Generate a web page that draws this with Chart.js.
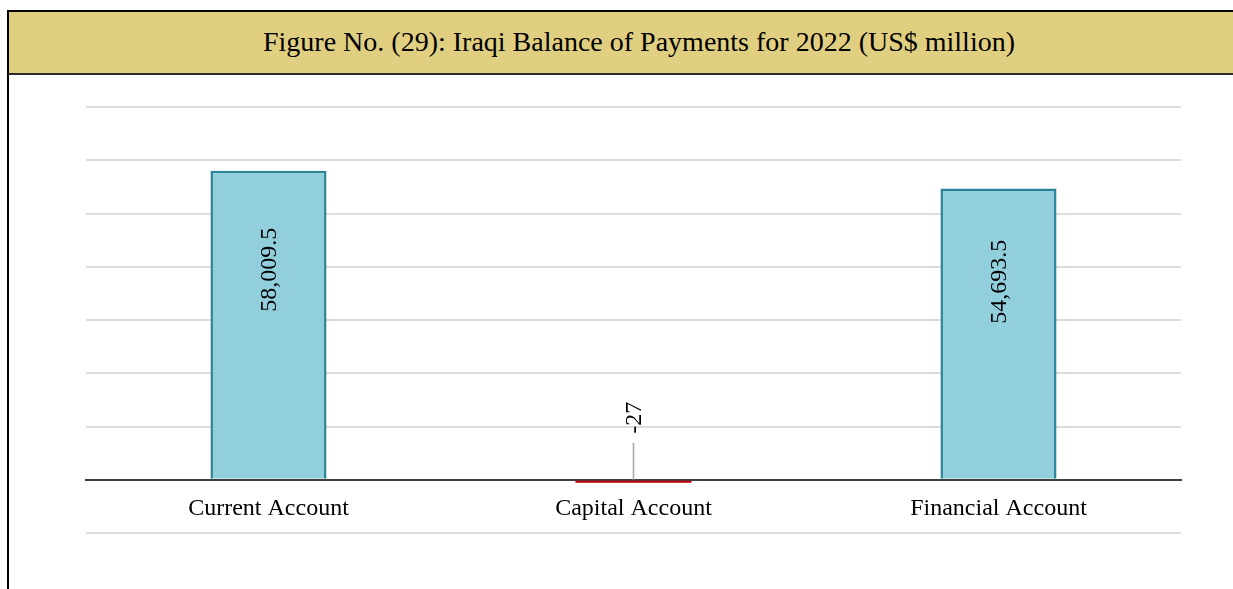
<!DOCTYPE html>
<html>
<head>
<meta charset="utf-8">
<script src="https://cdn.jsdelivr.net/npm/chart.js@4.4.1/dist/chart.umd.min.js"></script>
<style>
  html, body { margin: 0; padding: 0; background: #ffffff; overflow: hidden; }
  body { width: 1233px; height: 589px; position: relative; }
  #frame {
    position: absolute; left: 7px; top: 10px; width: 1300px; height: 640px;
    border-left: 2px solid #000; border-top: 2px solid #000; box-sizing: border-box;
  }
  #title {
    position: absolute; left: 7px; top: 10px; width: 1264px; height: 65px;
    background: #E0CF80; border: 2px solid #000; border-bottom-color: #2b2b2b;
    box-sizing: border-box;
    font-family: "Liberation Serif", "Times New Roman", serif; font-size: 28px;
    color: #000; text-align: center; line-height: 60px; white-space: nowrap;
  }
  #wrap { position: absolute; left: 9px; top: 75px; width: 1224px; height: 514px; }
</style>
</head>
<body>
<div id="frame"></div>
<div id="title">Figure No. (29): Iraqi Balance of Payments for 2022 (US$ million)</div>
<div id="wrap"><canvas id="chart"></canvas></div>
<script>
// Balance of payments components, 2022 (US$ million)
const categories = ['Current Account', 'Capital Account', 'Financial Account'];
const balances = [58009.5, -27, 54693.5];

// Value axis ticks (gridlines only, no labels)
const axisMin = -10000;
const axisMax = 70000;
const axisStep = 10000;

function fmt(v) {
  return Number.isInteger(v)
    ? v.toLocaleString('en-US')
    : v.toLocaleString('en-US', { minimumFractionDigits: 1, maximumFractionDigits: 1 });
}

// Rotated value labels; small negative values get a leader line above the axis
const valueLabels = {
  id: 'valueLabels',
  afterDatasetsDraw(chart) {
    const ctx = chart.ctx;
    const y = chart.scales.y;
    const meta = chart.getDatasetMeta(0);
    const zero = y.getPixelForValue(0);
    ctx.save();
    ctx.font = '24px "Liberation Serif", "Times New Roman", serif';
    ctx.fillStyle = '#000';
    ctx.textAlign = 'center';
    ctx.textBaseline = 'middle';
    meta.data.forEach((bar, i) => {
      const v = chart.data.datasets[0].data[i];
      const text = fmt(v);
      let cy;
      if (v > 0) {
        cy = y.getPixelForValue(v * 0.68);
      } else {
        cy = zero - 62;
        ctx.strokeStyle = '#a6a6a6';
        ctx.lineWidth = 1.5;
        ctx.beginPath();
        ctx.moveTo(bar.x, zero);
        ctx.lineTo(bar.x, zero - 37);
        ctx.stroke();
      }
      ctx.save();
      ctx.translate(bar.x, cy);
      ctx.rotate(-Math.PI / 2);
      ctx.fillText(text, 0, 1);
      ctx.restore();
    });
    ctx.restore();
  }
};

new Chart(document.getElementById('chart'), {
  type: 'bar',
  data: {
    labels: categories,
    datasets: [{
      data: balances,
      backgroundColor: (c) => c.raw < 0 ? '#C00000' : '#92CFDD',
      borderColor: (c) => c.raw < 0 ? '#C00000' : '#2E8496',
      borderWidth: (c) => c.raw < 0 ? 0 : 2.5,
      borderSkipped: 'start',
      minBarLength: 3,
      barPercentage: 0.318,
      categoryPercentage: 1.0
    }]
  },
  options: {
    responsive: true,
    maintainAspectRatio: false,
    animation: false,
    devicePixelRatio: 1,
    layout: { padding: { left: 77, right: 52, top: 32, bottom: 56 } },
    plugins: { legend: { display: false }, tooltip: { enabled: false }, title: { display: false } },
    scales: {
      x: {
        position: { y: 0 },
        grid: { display: false, drawTicks: false },
        border: { display: true, color: '#404040', width: 2 },
        ticks: {
          color: '#000',
          padding: 15,
          maxRotation: 0,
          font: { family: '"Liberation Serif", "Times New Roman", serif', size: 24 }
        }
      },
      y: {
        min: axisMin,
        max: axisMax,
        grid: { color: '#dcdcdc', lineWidth: 2, drawTicks: false },
        border: { display: false },
        ticks: { display: false, stepSize: axisStep }
      }
    }
  },
  plugins: [valueLabels]
});
</script>
</body>
</html>
